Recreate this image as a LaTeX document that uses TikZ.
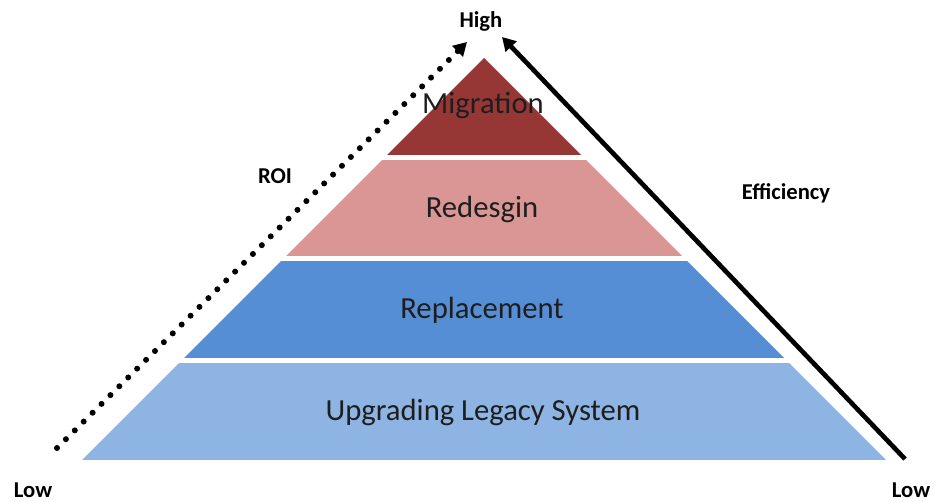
\documentclass[tikz,border=0pt]{standalone}
\usepackage{fontspec}
\setmainfont{Carlito}
\usetikzlibrary{positioning, arrows.meta}
\definecolor{pred}{RGB}{150,55,53}
\definecolor{ppink}{RGB}{217,150,148}
\definecolor{pblue}{RGB}{85,142,213}
\definecolor{plightblue}{RGB}{142,180,227}
\definecolor{ptext}{RGB}{30,30,30}

\begin{document}
\begin{tikzpicture}[x=0.75pt, y=-0.75pt,
        layertext/.style={anchor=base, text=ptext, font=\fontsize{23}{26}\selectfont},
        axistext/.style={anchor=base, text=black, font=\fontsize{17}{20}\selectfont\bfseries}]
        \useasboundingbox (0,0) rectangle (935,501);

        % pyramid bands
        \begin{scope}
            \clip (484,58) -- (82,460) -- (886,460) -- cycle;
            \fill[pred] (0,40) rectangle (935,155);
            \fill[ppink] (0,160) rectangle (935,256);
            \fill[pblue] (0,261) rectangle (935,358);
            \fill[plightblue] (0,363) rectangle (935,460);
        \end{scope}

        % band labels
        \node[layertext] (mig) at (483,113) {Migration};
        \node[layertext] (red) at (482,217) {Redesgin};
        \node[layertext] (rep) at (482,318) {Replacement};
        \node[layertext] (upg) at (483,420) {Upgrading Legacy System};

        % axis labels
        \node[axistext] (high) at (481,27) {High};
        \node[axistext] (lowl) at (33,497) {Low};
        \node[axistext] (lowr) at (911,497) {Low};
        \node[axistext] (roi) at (275,183) {ROI};
        \node[axistext] (eff) at (786,199) {Efficiency};

        % ROI arrow (dotted)
        \coordinate (roi-from) at (57,448);
        \coordinate (roi-to) at (467,42);
        \draw[line width=4.5pt, line cap=round, dash pattern=on 0pt off 9.4pt,
              -{Triangle[length=10pt, width=11pt]}] (roi-from) -- (roi-to);

        % efficiency arrow (solid)
        \coordinate (eff-from) at (905,459);
        \coordinate (eff-to) at (502,37);
        \draw[line width=3.5pt, -{Triangle[length=10pt, width=11pt]}] (eff-from) -- (eff-to);
\end{tikzpicture}
\end{document}
